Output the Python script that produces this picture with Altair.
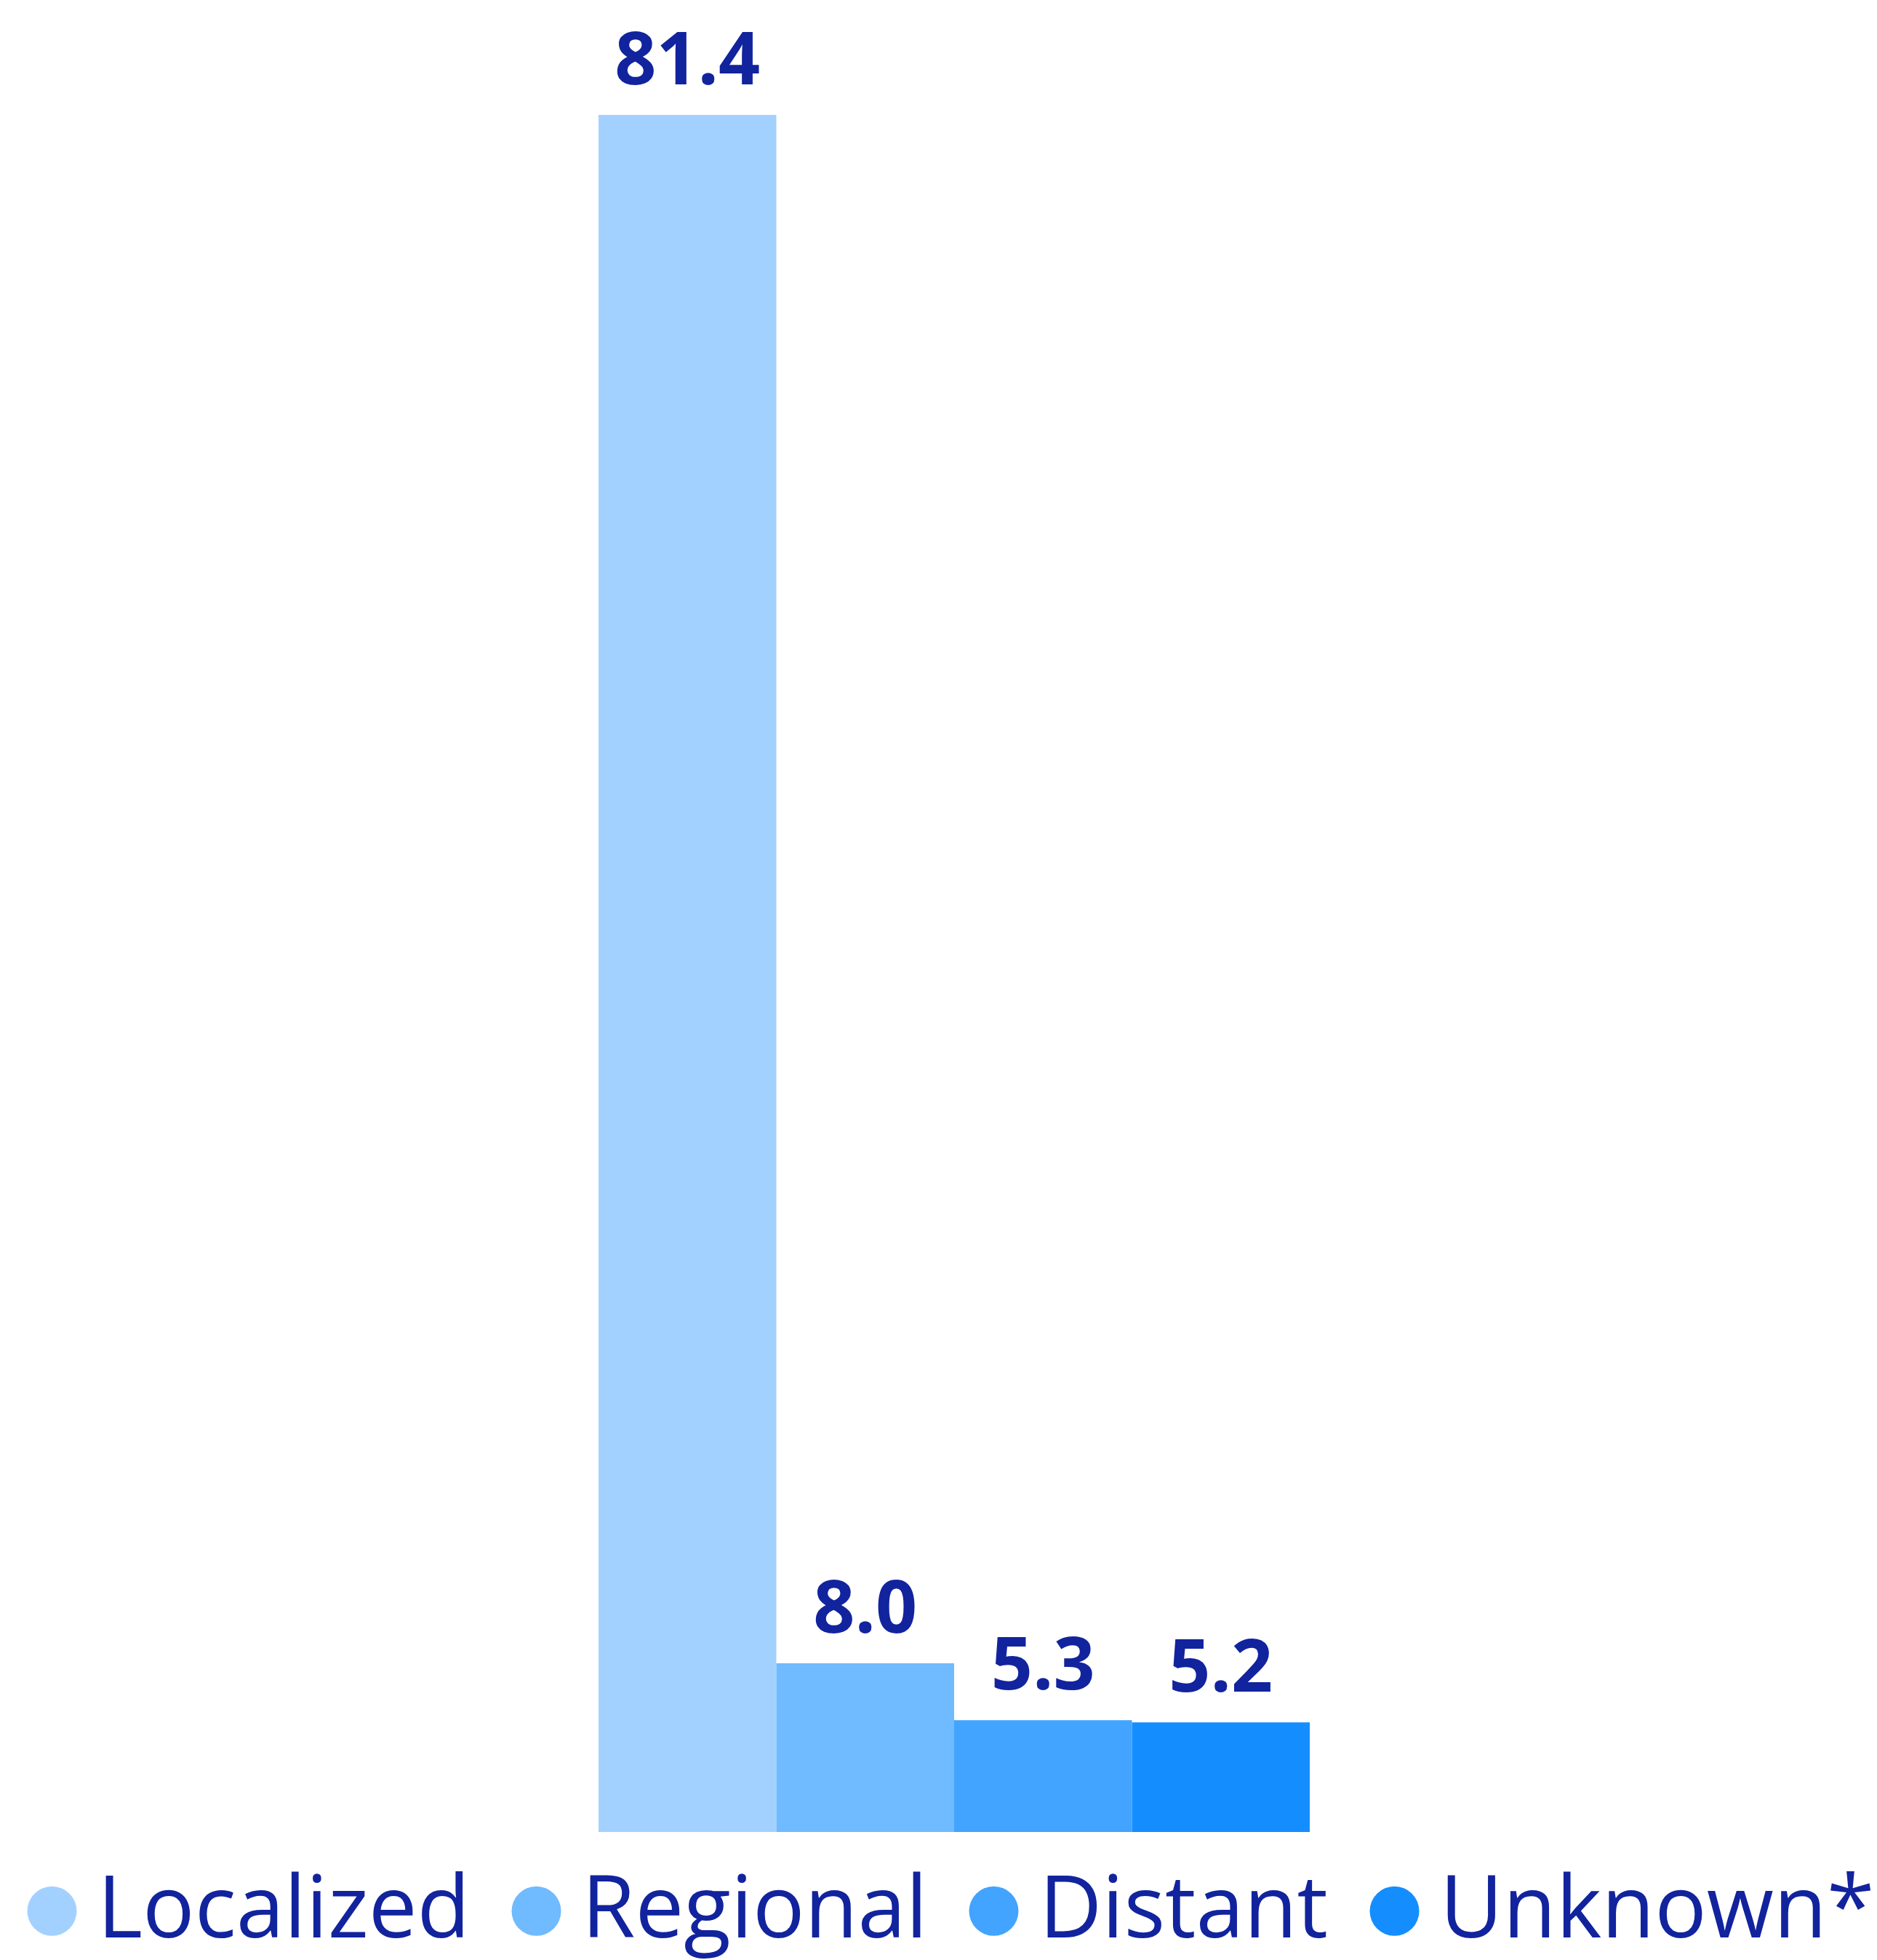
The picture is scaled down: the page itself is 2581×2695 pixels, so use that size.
import altair as alt
import pandas as pd

categories = ["Localized", "Regional", "Distant", "Unknown*"]
values = [81.4, 8.0, 5.3, 5.2]
colors = ["#A3D1FF", "#70BAFF", "#42A4FF", "#148EFF"]
text_color = "#12239E"

df = pd.DataFrame({"stage": categories, "value": values})

xscale = alt.Scale(paddingInner=0, paddingOuter=0)
yscale = alt.Scale(domain=[0, 86.57], nice=False)

base = alt.Chart(df).encode(
    x=alt.X("stage:N", sort=categories, axis=None, scale=xscale),
    y=alt.Y("value:Q", axis=None, scale=yscale),
)

bars = base.mark_bar().encode(
    color=alt.Color(
        "stage:N",
        sort=categories,
        scale=alt.Scale(domain=categories, range=colors),
        legend=alt.Legend(
            title=None,
            orient="none",
            legendX=-811,
            legendY=2560,
            direction="horizontal",
            columns=4,
            symbolType="circle",
            symbolSize=4624,
            symbolStrokeWidth=0,
            symbolOpacity=1,
            labelFont="Open Sans",
            labelFontSize=119,
            labelColor=text_color,
            labelOffset=3,
            columnPadding=31,
            labelLimit=0,
        ),
    )
)

labels = base.mark_text(
    baseline="alphabetic",
    dy=-42,
    font="Open Sans",
    fontSize=100,
    fontWeight="bold",
    color=text_color,
).encode(text=alt.Text("value:Q", format=".1f"))

chart = (
    (bars + labels)
    .properties(
        width=978,
        height=2511,
        padding={"left": 815, "right": 772, "top": 0, "bottom": 176},
        autosize=alt.AutoSizeParams(type="none"),
    )
    .configure_view(stroke=None)
)

chart.save("out.html", embed_options={"renderer": "svg", "actions": False})
